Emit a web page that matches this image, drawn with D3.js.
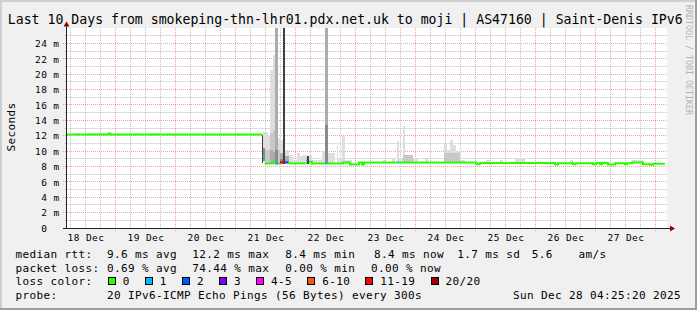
<!DOCTYPE html>
<html><head><meta charset="utf-8">
<script src="https://cdn.jsdelivr.net/npm/d3@7"></script>
<style>
body{margin:0;background:#f0f0f0}
svg{display:block}
text{font-family:"DejaVu Sans Mono",monospace;white-space:pre}
</style>
</head><body>
<svg id="c" width="697" height="310"></svg>
<script>
// ---------------- DATA ----------------
const titleText = "Last 10 Days from smokeping-thn-lhr01.pdx.net.uk to moji | AS47160 | Saint-Denis IPv6";
const startTime = new Date(2025, 11, 18, 4, 25, 20);
const endTime   = new Date(2025, 11, 28, 4, 25, 20);
const xTickLabels = ["18 Dec","19 Dec","20 Dec","21 Dec","22 Dec","23 Dec","24 Dec","25 Dec","26 Dec","27 Dec"];
const yTickValues = [0,2,4,6,8,10,12,14,16,18,20,22,24];
const yMax = 26;

// median rtt: segment start (hours since start), value (ms), loss bucket index
const medStart = [0,16.8,17.6,78.4,79.2,82.6,83.4,84.6,85.4,87.2,88.8,96.0,97.0,98.2,103.4,104.4,110.6,113.4,117.0,118.2,119.0,132.4,133.2,164.0,165.4,195.4,196.6,202.6,203.6,210.6,211.8,213.4,214.2,216.6,219.4,223.4,224.2,226.2,230.6,233.4,234.6];
const medEnd = 239.4;
const medRtt = [12.15,12.3,12.15,9.3,8.4,8.55,8.35,8.4,8.55,8.55,8.4,8.8,8.6,8.38,8.38,8.38,8.52,8.25,8.52,8.25,8.5,8.5,8.5,8.3,8.45,8.25,8.42,8.28,8.42,8.28,8.45,8.28,8.45,8.25,8.42,8.28,8.42,8.5,8.3,8.22,8.35];
const medLoss = [0,0,0,1,0,0,1,0,6,2,0,2,0,0,1,0,0,0,0,0,0,1,0,0,0,0,0,0,0,0,0,0,0,0,0,0,0,0,0,0,0];

// smoke bands: [startHour, endHour, low ms, high ms, density 1..5]
const smokeBands = [
 [3.8,5.4,12.15,12.4,1],[8.6,15.8,12.15,12.4,1],[27.0,28.6,12.15,12.35,1],[33.4,37.4,12.15,12.35,1],
 [78.6,79.4,8.7,12.5,1],[79.4,80.6,8.3,12.5,1],[80.6,81.4,8.3,12.1,1],[81.4,82.7,8.3,20.5,1],
 [82.7,83.4,8.3,22.5,1],[84.5,85.4,8.3,11.7,1],[85.4,86.5,8.3,11.4,1],[87.4,89.0,8.3,10.1,1],
 [89.0,90.6,8.3,9.5,1],[90.6,92.2,8.3,8.85,1],[92.2,93.4,8.3,9.7,1],[93.4,94.6,8.3,9.3,1],
 [94.6,96.0,8.3,9.5,1],[97.0,98.2,8.3,9.5,1],[98.2,102.2,8.3,8.85,1],[102.2,103.4,8.3,9.9,1],
 [104.6,107.4,8.3,9.7,1],[108.1,108.7,8.3,10.8,1],[108.7,110.1,8.3,9.15,1],[110.1,111.4,8.3,11.9,1],
 [111.4,114.2,8.3,8.85,1],[126.6,127.4,8.4,8.85,1],[130.2,131.4,8.4,9.15,1],[132.1,133.0,8.4,11.3,1],
 [133.0,134.5,8.4,9.05,1],[134.5,135.4,8.4,13.25,1],[135.4,138.6,8.4,9.35,1],[138.6,140.6,8.4,9.05,1],
 [143.4,144.6,8.4,8.95,1],[151.0,152.2,8.4,11.0,1],[152.2,153.4,8.4,10.2,1],[153.4,154.6,8.4,11.45,1],
 [154.6,155.8,8.4,10.8,1],[155.8,157.4,8.4,10.0,1],[157.4,159.4,8.4,8.85,1],[167.8,169.4,8.4,8.85,1],
 [173.4,174.6,8.4,8.8,1],[179.4,183.4,8.4,9.05,1],[201.4,202.6,8.4,8.9,1],[226.2,230.6,8.4,8.85,1],
 [79.4,81.4,8.3,10.1,2],[81.4,82.7,8.3,12.35,2],[82.7,83.4,8.3,12.7,2],[84.5,85.4,8.3,10.1,2],
 [134.5,138.6,8.4,9.5,2],[151.0,157.4,8.4,9.7,2],
 [83.4,84.5,8.3,30,3],[103.4,104.5,8.3,30,3],[81.4,82.7,8.3,10.1,3],[82.7,83.4,8.3,9.9,3],
 [87.4,89.0,8.3,9.3,3],[85.4,86.5,8.3,9.7,3],
 [78.6,79.4,8.7,10.4,4],[83.4,84.5,8.3,10.2,4],[103.4,104.5,8.3,13.4,4],[85.4,86.5,8.3,9.0,4],
 [78.2,78.6,8.4,12.15,5],[86.5,87.4,8.3,30,5],[96.0,97.0,8.3,9.35,5]
];

const lossLabels = ["0","1","2","3","4-5","6-10","11-19","20/20"];
const lossColors = ["#26ff00","#00b8ff","#0059ff","#7e00ff","#ff00ff","#ff5500","#ff0000","#a00000"];

const rttStats  = ["9.6 ms avg","12.2 ms max","8.4 ms min","8.4 ms now","1.7 ms sd","5.6","am/s"];
const lossStats = ["0.69 % avg","74.44 % max","0.00 % min","0.00 % now"];
const probeText = "20 IPv6-ICMP Echo Pings (56 Bytes) every 300s";
const stampText = "Sun Dec 28 04:25:20 2025";

// ---------------- DRAW ----------------
const W = 697, H = 310;
const svg = d3.select("#c");
const hr = h => new Date(+startTime + h * 3600e3);
const x = d3.scaleTime().domain([startTime, endTime]).range([66.5, 666.5]);
const y = d3.scaleLinear().domain([0, yMax]).range([228, 28]);
const shade = d3.scaleOrdinal().domain([1,2,3,4,5]).range(["#dedede","#c8c8c8","#acacac","#8a8a8a","#404040"]);

// background + 3D border
svg.append("rect").attr("width", W).attr("height", H).attr("fill", "#f0f0f0");
svg.append("rect").attr("x",0).attr("y",0).attr("width",W).attr("height",2).attr("fill","#cfcfcf");
svg.append("rect").attr("x",0).attr("y",0).attr("width",2).attr("height",H).attr("fill","#cfcfcf");
svg.append("rect").attr("x",0).attr("y",H-2).attr("width",W).attr("height",2).attr("fill","#9e9e9e");
svg.append("rect").attr("x",W-2).attr("y",0).attr("width",2).attr("height",H).attr("fill","#9e9e9e");

// canvas
svg.append("rect").attr("x", 67).attr("y", 28).attr("width", 600).attr("height", 200).attr("fill", "#fff");

// grid
const grid = svg.append("g").attr("stroke-width", 1).attr("stroke-dasharray", "1,1").attr("fill", "none");
const minorColor = "rgba(140,140,140,0.55)", majorColor = "rgba(240,40,40,0.45)";
const snap = v => Math.floor(v) + 0.5;
for (let v = 1; v < yMax; v++) {
  const major = v % 2 === 0;
  grid.append("line").attr("x1", major ? 63 : 64.5).attr("x2", 667)
    .attr("y1", snap(y(v))).attr("y2", snap(y(v)))
    .attr("stroke", major ? majorColor : minorColor);
}
d3.timeHour.every(6).range(startTime, endTime).forEach(t => {
  const major = t.getHours() === 0;
  const xx = snap(x(t));
  grid.append("line").attr("x1", xx).attr("x2", xx).attr("y1", 28).attr("y2", major ? 232 : 230)
    .attr("stroke", major ? majorColor : minorColor);
});

// smoke
const clipId = "plotclip";
svg.append("clipPath").attr("id", clipId).append("rect").attr("x", 67).attr("y", 28).attr("width", 600).attr("height", 200);
const smokeG = svg.append("g").attr("clip-path", `url(#${clipId})`).attr("shape-rendering", "crispEdges");
smokeBands.slice().sort((a, b) => a[4] - b[4]).forEach(d => {
  const x0 = x(hr(d[0])), x1 = x(hr(d[1]));
  const yt = y(Math.min(d[3], yMax + 1)), yb = y(d[2]);
  smokeG.append("rect").attr("x", x0).attr("width", x1 - x0)
    .attr("y", yt).attr("height", yb - yt).attr("fill", shade(d[4]));
});

// median line, grouped into runs of equal loss colour
const runs = [];
medStart.forEach((s, i) => {
  const e = i < medStart.length - 1 ? medStart[i + 1] : medEnd;
  const last = runs[runs.length - 1];
  if (last && last.loss === medLoss[i]) last.segs.push({ s, e, v: medRtt[i] });
  else runs.push({ loss: medLoss[i], segs: [{ s, e, v: medRtt[i] }] });
});
const line = d3.line().x(d => x(hr(d[0]))).y(d => y(d[1])).curve(d3.curveStepAfter);
const medG = svg.append("g").attr("clip-path", `url(#${clipId})`);
runs.forEach(r => {
  const pts = r.segs.map(sg => [sg.s, sg.v]);
  const lastSeg = r.segs[r.segs.length - 1];
  pts.push([lastSeg.e, lastSeg.v]);
  medG.append("path").attr("d", line(pts)).attr("fill", "none")
    .attr("stroke", lossColors[r.loss]).attr("stroke-width", 2);
});

// axes lines + arrows
svg.append("line").attr("x1", 66.5).attr("x2", 66.5).attr("y1", 229).attr("y2", 24).attr("stroke", "#202020");
svg.append("line").attr("x1", 63).attr("x2", 671).attr("y1", 228.5).attr("y2", 228.5).attr("stroke", "#202020");
svg.append("path").attr("d", "M63.5,26.5L66.5,21.5L69.5,26.5Z").attr("fill", "#900000");
svg.append("path").attr("d", "M670,225.5L675,228.5L670,231.5Z").attr("fill", "#900000");

// y tick labels via d3 axis
const yAxis = d3.axisLeft(y).tickValues(yTickValues).tickSize(0).tickPadding(7)
  .tickFormat(d => d === 0 ? "0  " : d + " m");
const yg = svg.append("g").attr("transform", "translate(66.5,0)").call(yAxis);
yg.select(".domain").remove();
yg.selectAll("text").attr("font-family", "DejaVu Sans Mono").attr("font-size", 9.5)
  .attr("letter-spacing", 0.4).attr("fill", "#000").attr("dy", "0.34em");

// x tick labels at noon of each day
const noonTicks = xTickLabels.map((_, i) => new Date(2025, 11, 18 + i, 12, 0, 0));
const xAxis = d3.axisBottom(x).tickValues(noonTicks).tickSize(0).tickPadding(6)
  .tickFormat((d, i) => xTickLabels[i]);
const xg = svg.append("g").attr("transform", "translate(0,228)").call(xAxis);
xg.select(".domain").remove();
xg.selectAll("text").attr("font-family", "DejaVu Sans Mono").attr("font-size", 9.5)
  .attr("letter-spacing", 0.4).attr("fill", "#000");

// title
svg.append("text").attr("x", 7.8).attr("y", 23.5).attr("font-size", 13.2).attr("fill", "#000").text(titleText);

// y title
svg.append("text").attr("transform", "translate(15,127) rotate(-90)").attr("text-anchor", "middle")
  .attr("font-size", 11).attr("letter-spacing", 0.38).attr("fill", "#000").text("Seconds");

// watermark
svg.append("text").attr("transform", "translate(685.5,5) rotate(90)").attr("font-size", 8.3)
  .attr("fill", "#b4b4b4").text("RRDTOOL / TOBI OETIKER");

// legend
const leg = svg.append("g").attr("font-size", 11).attr("letter-spacing", 0.38).attr("fill", "#000");
const put = (t, xx, yy) => leg.append("text").attr("x", xx).attr("y", yy).text(t);
const row1 = [107.0, 192.3, 285.2, 374.1, 457.2, 531.8, 578.5];
const row2 = [107.0, 192.3, 285.2, 371.0];
put("median rtt:", 15.6, 258.3);
rttStats.forEach((t, i) => put(t, row1[i], 258.3));
put("packet loss:", 15.6, 271.7);
lossStats.forEach((t, i) => put(t, row2[i], 271.7));
put("loss color:", 15.6, 285.1);
let bx = 108.3;
lossLabels.forEach((lab, i) => {
  svg.append("rect").attr("x", Math.floor(bx) + 0.5).attr("y", 277.5).attr("width", 7).attr("height", 7)
    .attr("fill", lossColors[i]).attr("stroke", "#000").attr("stroke-width", 1);
  put(lab, bx + 14.4, 285.1);
  bx += 15 + 7 * lab.length + 15.1;
});
put("probe:", 15.6, 298.5);
put(probeText, 107.0, 298.5);
leg.append("text").attr("x", 681).attr("y", 298.5).attr("text-anchor", "end").text(stampText);
</script>
</body></html>
